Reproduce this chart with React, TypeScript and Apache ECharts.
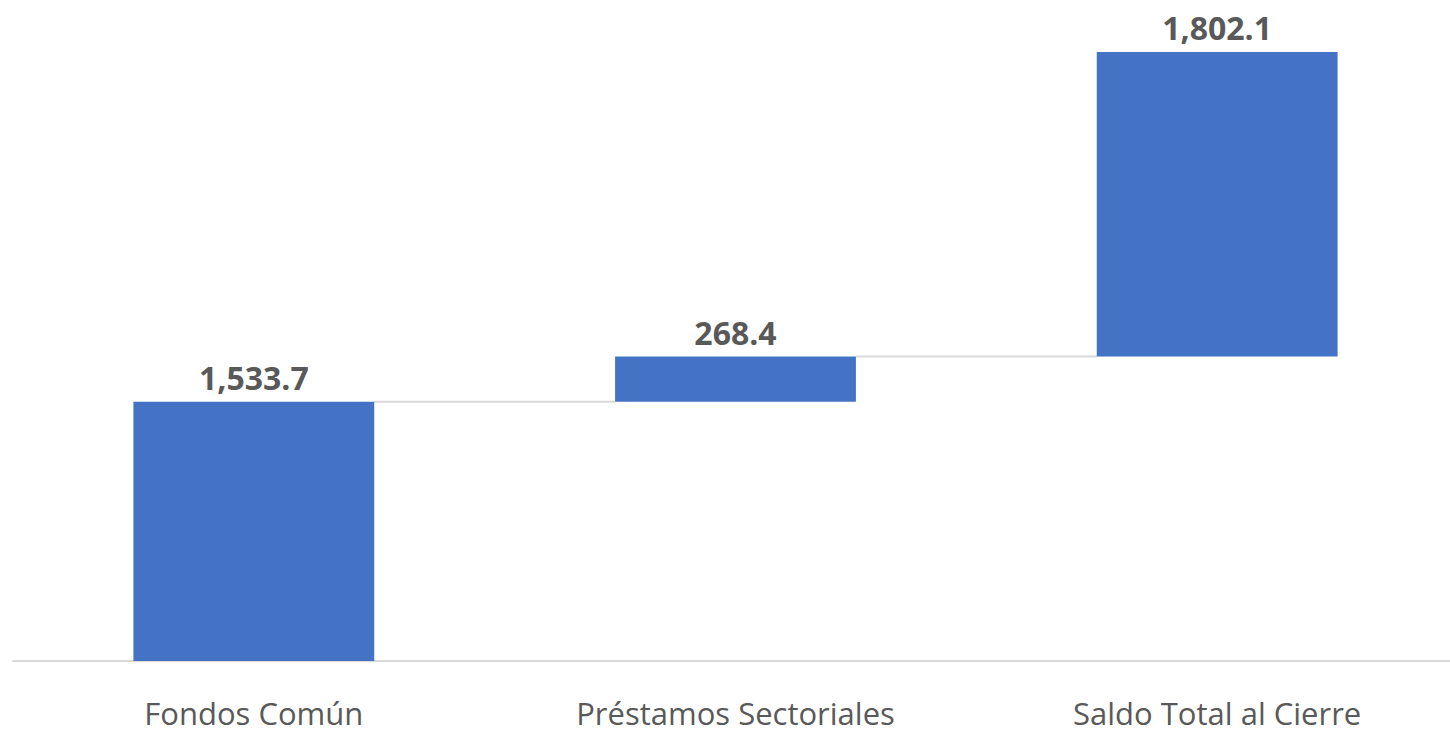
import React, { useEffect, useRef } from "react";
import * as echarts from "echarts";

const categories = ["Fondos Común", "Préstamos Sectoriales", "Saldo Total al Cierre"];
const values = [1533.7, 268.4, 1802.1];
const bases = [0, 1533.7, 1802.1];
const connectorIdx = [0, 1];
const connectorLevels = [1533.7, 1802.1];

const fmt = (v: number) =>
  v.toLocaleString("en-US", { minimumFractionDigits: 1, maximumFractionDigits: 1 });

export default function App() {
  const ref = useRef<HTMLDivElement>(null);
  useEffect(() => {
    if (!ref.current) return;
    const chart = echarts.init(ref.current, null, { renderer: "svg" });
    const yMax = 3800;
    const k = 0.169;
    const baseline = 661;
    chart.setOption({
      animation: false,
      backgroundColor: "#ffffff",
      grid: {
        left: 13,
        right: 0,
        bottom: 729 - baseline,
        top: baseline - yMax * k,
        containLabel: false,
      },
      xAxis: {
        type: "category",
        data: categories,
        axisLine: { show: true, lineStyle: { color: "#D9D9D9", width: 2 } },
        axisTick: { show: false },
        axisLabel: {
          color: "#595959",
          fontFamily: "Open Sans",
          fontSize: 31,
          lineHeight: 31,
          margin: 36,
          interval: 0,
        },
      },
      yAxis: {
        type: "value",
        min: 0,
        max: yMax,
        show: false,
        splitLine: { show: false },
      },
      series: [
        {
          type: "bar",
          stack: "total",
          data: bases,
          barWidth: "50%",
          itemStyle: { color: "transparent" },
          emphasis: { disabled: true },
          silent: true,
        },
        {
          type: "bar",
          stack: "total",
          data: values,
          barWidth: "50%",
          itemStyle: { color: "#4472C4" },
          label: {
            show: true,
            position: "top",
            distance: 8,
            color: "#595959",
            fontFamily: "Open Sans",
            fontWeight: "bold",
            fontSize: 32,
            formatter: (p: any) => fmt(p.value),
          },
        },
        {
          type: "custom",
          data: connectorIdx.map((c, i) => [c, connectorLevels[i]]),
          encode: { x: 0, y: 1 },
          silent: true,
          z: 1,
          renderItem: (params: any, api: any) => {
            const pt = api.coord([api.value(0), api.value(1)]);
            const band = api.size([1, 0])[0];
            return {
              type: "line",
              shape: {
                x1: pt[0] + band * 0.25,
                y1: pt[1],
                x2: pt[0] + band * 0.75,
                y2: pt[1],
              },
              style: { stroke: "#D9D9D9", lineWidth: 2 },
            };
          },
        },
      ],
    });
    return () => chart.dispose();
  }, []);
  return (
    <div
      style={{
        position: "fixed",
        left: 0,
        top: 0,
        width: 1450,
        height: 729,
        overflow: "hidden",
        background: "#ffffff",
      }}
    >
      <div ref={ref} style={{ width: 1458, height: 729 }} />
    </div>
  );
}
